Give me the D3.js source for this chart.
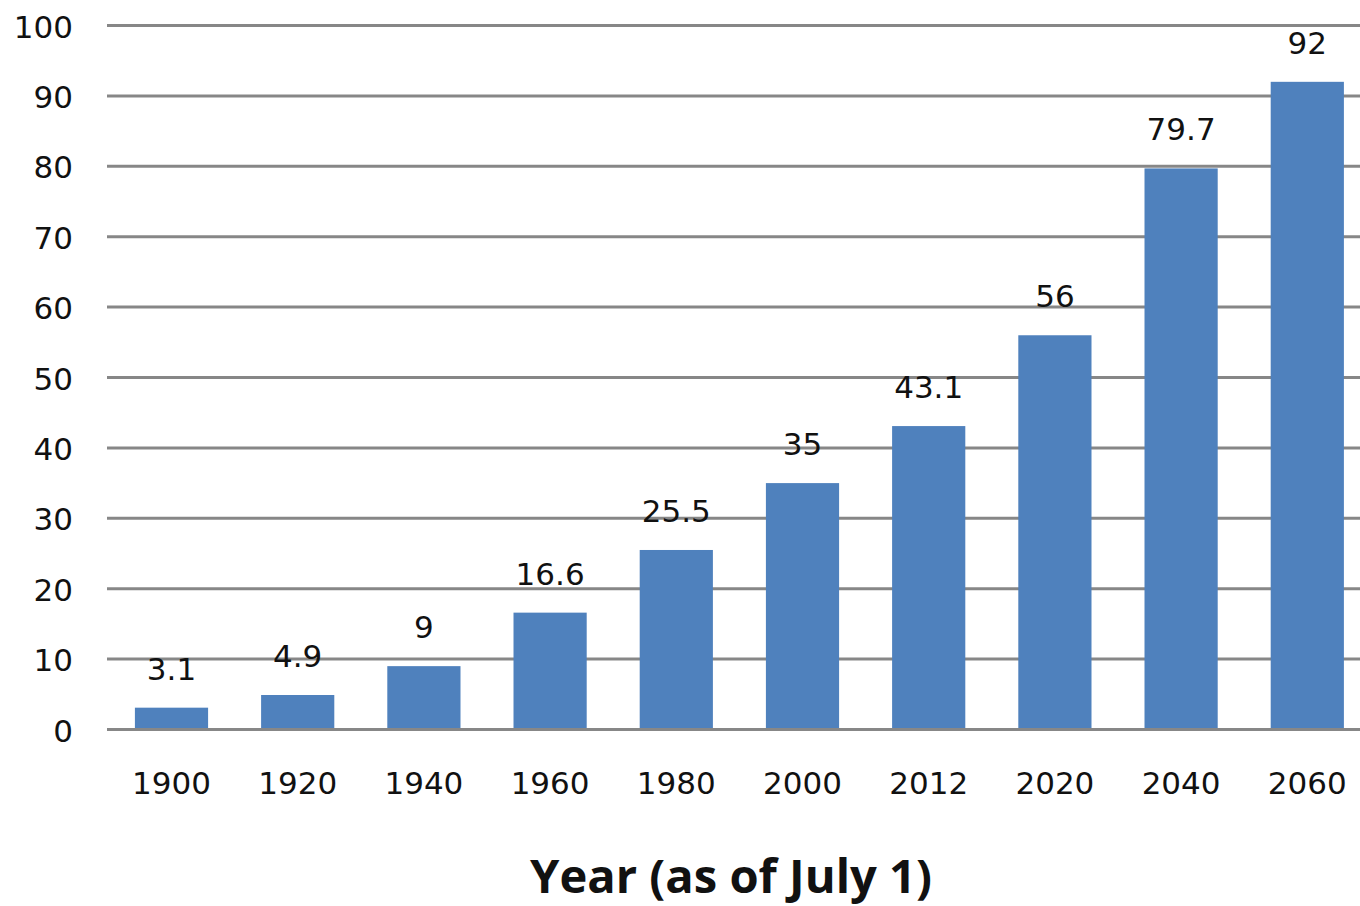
<!DOCTYPE html>
<html><head><meta charset="utf-8">
<script src="https://cdn.jsdelivr.net/npm/d3@7"></script>
<style>html,body{margin:0;padding:0;background:#fff;overflow:hidden}</style>
</head><body>
<svg id="chart" width="1360" height="906"></svg>
<script>
const categories = ["1900","1920","1940","1960","1980","2000","2012","2020","2040","2060"];
const values = [3.1, 4.9, 9, 16.6, 25.5, 35, 43.1, 56, 79.7, 92];
const valueLabels = ["3.1","4.9","9","16.6","25.5","35","43.1","56","79.7","92"];
const yTicks = [0,10,20,30,40,50,60,70,80,90,100];
const xTitle = "Year (as of July 1)";

const svg = d3.select("#chart");
const font = "'DejaVu Sans', Verdana, sans-serif";

const x = d3.scaleBand().domain(categories).range([108.4, 1370.4]).paddingInner(0.42).paddingOuter(0.21);
const y = d3.scaleLinear().domain([0, 100]).range([729.5, 25.5]);

// gridlines
svg.append("g").selectAll("line").data(yTicks.filter(d => d !== 0)).join("line")
  .attr("x1", 107).attr("x2", 1360)
  .attr("y1", d => y(d)).attr("y2", d => y(d))
  .attr("stroke", "#878787").attr("stroke-width", 3);

// bars
svg.append("g").selectAll("rect").data(values).join("rect")
  .attr("x", (d, i) => x(categories[i]))
  .attr("width", x.bandwidth())
  .attr("y", d => y(d))
  .attr("height", d => y(0) - y(d))
  .attr("fill", "#4F81BD");

// baseline
svg.append("line").attr("x1", 107).attr("x2", 1360)
  .attr("y1", y(0)).attr("y2", y(0))
  .attr("stroke", "#878787").attr("stroke-width", 3);

// y tick labels
svg.append("g").selectAll("text").data(yTicks).join("text")
  .attr("x", 73).attr("y", d => y(d) + 12)
  .attr("text-anchor", "end")
  .attr("font-family", font).attr("font-size", 31).attr("fill", "#111")
  .text(d => d);

// x tick labels
svg.append("g").selectAll("text").data(categories).join("text")
  .attr("x", d => x(d) + x.bandwidth() / 2).attr("y", 794)
  .attr("text-anchor", "middle")
  .attr("font-family", font).attr("font-size", 31).attr("fill", "#111")
  .text(d => d);

// value labels
svg.append("g").selectAll("text").data(values).join("text")
  .attr("x", (d, i) => x(categories[i]) + x.bandwidth() / 2)
  .attr("y", d => y(d) - 28)
  .attr("text-anchor", "middle")
  .attr("font-family", font).attr("font-size", 31).attr("fill", "#111")
  .text((d, i) => valueLabels[i]);

// x axis title
svg.append("text")
  .attr("x", 530).attr("y", 893)
  .attr("font-family", "'Open Sans', 'Liberation Sans', sans-serif")
  .attr("font-weight", "bold").attr("font-size", 46).attr("fill", "#111")
  .attr("textLength", 402).attr("lengthAdjust", "spacingAndGlyphs")
  .text(xTitle);
</script>
</body></html>
